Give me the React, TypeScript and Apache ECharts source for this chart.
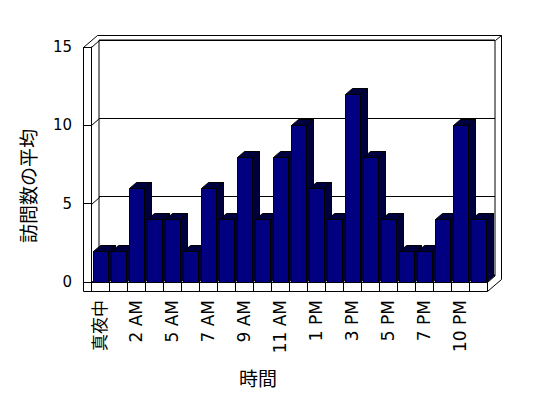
import React, { useEffect, useRef } from "react";
import * as echarts from "echarts";

// ---- data ----
const categories = [
  "真夜中", "1 AM", "2 AM", "3 AM", "5 AM", "6 AM", "7 AM", "8 AM", "9 AM", "10 AM", "11 AM",
  "12 PM", "1 PM", "2 PM", "3 PM", "4 PM", "5 PM", "6 PM", "7 PM", "8 PM", "10 PM", "11 PM",
];
const visits = [2, 2, 6, 4, 4, 2, 6, 4, 8, 4, 8, 10, 6, 4, 12, 8, 4, 2, 2, 4, 10, 4];
const yTicks = [0, 5, 10, 15];
const xTitle = "時間";
const yTitle = "訪問数の平均";

// ---- geometry / style ----
const FRONT = { left: 91, top: 47, width: 396, height: 235 };
const DEPTH = [8, -7];
const THICK = [6, -5];
const BAR_DEPTH = [7, -6];
const FONT = "'DejaVu Sans', 'Noto Sans CJK JP', sans-serif";
const CJK_FONT = "'Noto Sans CJK JP', sans-serif";
const FRONT_COLOR = "#000080";
const SIDE_COLOR = "#00003f";

export default function App() {
  const ref = useRef<HTMLDivElement>(null);
  useEffect(() => {
    if (!ref.current) return;
    const chart = echarts.init(ref.current, undefined, { renderer: "svg" });
    const L = FRONT.left, T = FRONT.top, R = FRONT.left + FRONT.width, B = FRONT.top + FRONT.height;
    const floorB = B + 9;
    const outerL = L - 8;
    const h = (v: number) => Math.round(v) + 0.5;
    const line = { stroke: "#000", lineWidth: 1, fill: "none" };

    const option: any = {
      animation: false,
      backgroundColor: "#fff",
      grid: [
        { ...FRONT, show: false },
        {
          left: L + DEPTH[0], top: T + DEPTH[1], width: FRONT.width, height: FRONT.height,
          show: true, borderColor: "#000", borderWidth: 1, backgroundColor: "transparent",
        },
      ],
      xAxis: [
        {
          type: "category", gridIndex: 0, data: categories, boundaryGap: true,
          axisLine: { show: true, lineStyle: { color: "#000", width: 1 } },
          axisTick: { show: true, interval: 0, length: 9, lineStyle: { color: "#000" } },
          axisLabel: {
            interval: 1, rotate: 90, margin: 18, color: "#000", fontSize: 17, fontFamily: FONT,
          },
        },
        { type: "category", gridIndex: 1, data: categories, show: false },
      ],
      yAxis: [
        {
          type: "value", gridIndex: 0, min: 0, max: 15, interval: 5,
          axisLine: { show: true, lineStyle: { color: "#000", width: 1 } },
          axisTick: { show: true, length: 8, lineStyle: { color: "#000" } },
          splitLine: { show: false },
          axisLabel: { margin: 19, color: "#000", fontSize: 15, fontFamily: FONT },
        },
        {
          type: "value", gridIndex: 1, min: 0, max: 15, interval: 5,
          axisLine: { show: false }, axisTick: { show: false }, axisLabel: { show: false },
          splitLine: { show: true, lineStyle: { color: "#000", width: 1 } },
        },
      ],
      graphic: [
        { type: "polyline", silent: true, shape: { points: [[h(outerL), h(floorB)], [h(outerL), h(T)], [h(outerL + DEPTH[0] + THICK[0]), h(T + DEPTH[1] + THICK[1])], [h(R + DEPTH[0] + THICK[0]), h(T + DEPTH[1] + THICK[1])], [h(R + DEPTH[0] + THICK[0]), h(floorB + DEPTH[1] + THICK[1])], [h(R), h(floorB)], [h(outerL), h(floorB)]] }, style: line },
        { type: "line", silent: true, shape: { x1: h(R), y1: h(B), x2: h(R + DEPTH[0]), y2: h(B + DEPTH[1]) }, style: line },
        { type: "line", silent: true, shape: { x1: h(R), y1: h(B), x2: h(R), y2: h(floorB) }, style: line },
        { type: "line", silent: true, shape: { x1: h(R + DEPTH[0]), y1: h(T + DEPTH[1]), x2: h(R + DEPTH[0] + THICK[0]), y2: h(T + DEPTH[1] + THICK[1]) }, style: line },
        { type: "text", silent: true, x: 258, y: 377, style: { text: xTitle, fill: "#000", fontSize: 19, fontFamily: CJK_FONT, align: "center", verticalAlign: "middle" } },
        { type: "text", silent: true, x: 27, y: 186, rotation: Math.PI / 2, style: { text: yTitle, fill: "#000", fontSize: 19, fontFamily: CJK_FONT, align: "center", verticalAlign: "middle" } },
      ],
      series: [
        {
          type: "custom", xAxisIndex: 0, yAxisIndex: 0, z: 3,
          data: yTicks.map((t) => [0, t]),
          encode: { x: 0, y: 1 },
          renderItem: (params: any, api: any) => {
            const p = api.coord([0, api.value(1)]);
            const band = api.size([1, 0])[0];
            const x = Math.round(p[0] - band / 2) + 0.5;
            const y = Math.round(p[1]) + 0.5;
            return { type: "line", shape: { x1: x, y1: y, x2: x + DEPTH[0], y2: y + DEPTH[1] }, style: { stroke: "#000", lineWidth: 1 } };
          },
        },
        {
          type: "custom", xAxisIndex: 0, yAxisIndex: 0, z: 4,
          data: visits.map((v, i) => [i, v]),
          encode: { x: 0, y: 1 },
          renderItem: (params: any, api: any) => {
            const i = api.value(0), v = api.value(1);
            const top = api.coord([i, v]);
            const base = api.coord([i, 0]);
            const x0 = Math.round(top[0] - 7) + 0.5;
            const x1 = Math.round(top[0] + 8) + 0.5;
            const y0 = Math.round(top[1]) + 0.5;
            const y1 = Math.round(base[1]) + 0.5;
            const [dx, dy] = BAR_DEPTH;
            const st = (fill: string) => ({ fill, stroke: "#000", lineWidth: 1 });
            return {
              type: "group",
              children: [
                { type: "polygon", shape: { points: [[x1, y0], [x1 + dx, y0 + dy], [x1 + dx, y1 + dy], [x1, y1]] }, style: st(SIDE_COLOR) },
                { type: "polygon", shape: { points: [[x0, y0], [x0 + dx, y0 + dy], [x1 + dx, y0 + dy], [x1, y0]] }, style: st(SIDE_COLOR) },
                { type: "rect", shape: { x: x0, y: y0, width: x1 - x0, height: y1 - y0 }, style: st(FRONT_COLOR) },
              ],
            };
          },
        },
      ],
    };
    chart.setOption(option);
    return () => chart.dispose();
  }, []);
  return <div ref={ref} style={{ position: "absolute", left: 0, top: 0, width: 548, height: 398 }} />;
}
